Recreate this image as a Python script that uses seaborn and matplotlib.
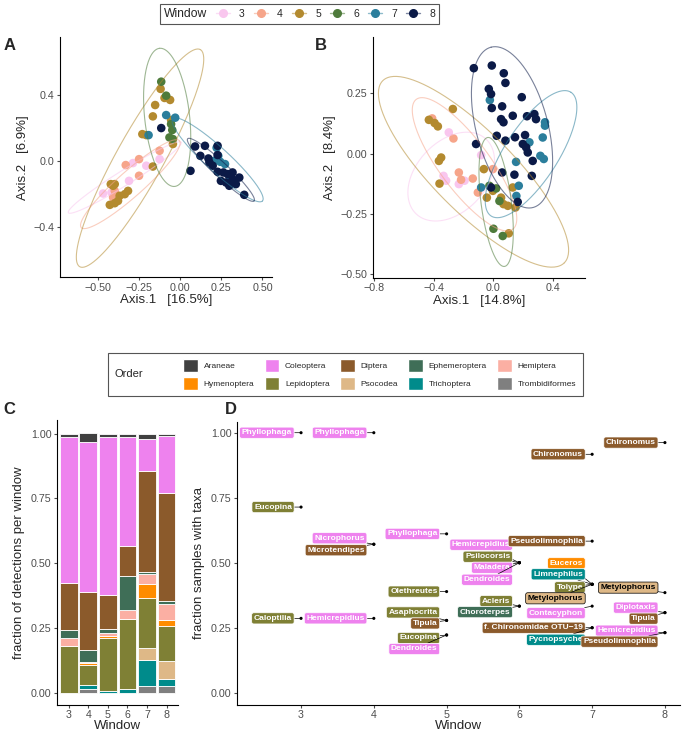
import numpy as np
import pandas as pd
import matplotlib
matplotlib.use("Agg")
import matplotlib.pyplot as plt
import seaborn as sns
from matplotlib.lines import Line2D
from matplotlib.patches import Patch
from matplotlib.offsetbox import DrawingArea

# ---------------- data ----------------
windows = [3, 4, 5, 6, 7, 8]
win_colors = {3: "#F9C6EE", 4: "#F6A58A", 5: "#B38A2F", 6: "#4E7B3B", 7: "#2B7E9C", 8: "#0B1A47"}

# PCoA A  (Axis.1 16.5%, Axis.2 6.9%)
a_window = [3]*6 + [4]*6 + [5]*19 + [6]*6 + [7]*9 + [8]*21
a_x = [-0.288, -0.207, -0.126, -0.312, -0.470, -0.419,
       -0.126, -0.251, -0.332, -0.251, -0.399, -0.409,
       -0.120, -0.096, -0.062, -0.153, -0.167, -0.231, -0.207, -0.056, -0.045, -0.167,
       -0.423, -0.399, -0.409, -0.318, -0.338, -0.369, -0.429, -0.399, -0.379,
       -0.116, -0.086, -0.056, -0.049, -0.066, -0.045,
       -0.086, -0.031, -0.193, 0.221, 0.231, 0.243, 0.272, 0.207, 0.298,
       -0.116, 0.090, 0.150, 0.122, 0.171, 0.227, 0.227, 0.062, 0.197, 0.227, 0.262,
       0.288, 0.318, 0.359, 0.298, 0.338, 0.389, 0.247, 0.278, 0.177, 0.318]
a_y = [-0.014, -0.030, 0.010, -0.122, -0.199, -0.193,
       0.061, 0.010, -0.026, -0.091, -0.183, -0.223,
       0.437, 0.382, 0.370, 0.339, 0.270, 0.162, 0.156, 0.248, 0.102, -0.035,
       -0.142, -0.142, -0.152, -0.183, -0.203, -0.213, -0.268, -0.258, -0.244,
       0.481, 0.396, 0.223, 0.187, 0.142, 0.132,
       0.278, 0.262, 0.156, 0.079, 0.030, -0.006, -0.020, 0.000, -0.091,
       0.199, 0.087, 0.091, 0.030, 0.014, 0.091, 0.035, -0.061, -0.030, -0.067, -0.071,
       -0.081, -0.112, -0.102, -0.152, -0.142, -0.207, -0.122, -0.132, -0.010, -0.071]
# ellipse per window: centre, end of long half-axis, end of short half-axis
a_ell_cx = [-0.338, -0.304, -0.245, -0.080, 0.227, 0.247]
a_ell_cy = [-0.102, -0.142, 0.016, 0.264, 0.006, -0.055]
a_ell_ux = [0.005, -0.005, 0.122, -0.126, 0.500, 0.449]
a_ell_uy = [0.112, 0.122, 0.676, 0.684, -0.244, -0.244]
a_ell_vx = [-0.314, -0.254, -0.120, 0.056, 0.179, 0.217]
a_ell_vy = [-0.140, -0.201, -0.055, 0.278, -0.047, -0.087]

# PCoA B  (Axis.1 14.8%, Axis.2 8.4%)
b_window = [3]*6 + [4]*7 + [5]*16 + [6]*5 + [7]*11 + [8]*29
b_x = [-0.298, -0.333, -0.316, -0.231, -0.193, -0.082,
       -0.409, -0.267, -0.231, -0.216, -0.138, -0.104, -0.004,
       -0.271, -0.431, -0.393, -0.371, -0.349, -0.364, -0.360, -0.064,
       -0.044, -0.004, 0.129, 0.067, 0.096, 0.147, 0.051, 0.102,
       0.018, 0.040, 0.000, 0.062, -0.027,
       -0.024, 0.344, 0.344, 0.329, 0.240, 0.313, 0.336, 0.151, 0.169, 0.153, -0.082,
       -0.131, -0.011, 0.069, 0.080, -0.031, -0.016, 0.189, 0.058, -0.011, 0.051,
       0.129, 0.224, 0.273, 0.284, 0.022, 0.144, 0.211, 0.080, -0.116, 0.196,
       0.218, 0.229, 0.262, 0.058, 0.140, 0.256, -0.016, 0.162, 0.067]
b_y = [0.088, -0.092, -0.112, -0.126, -0.112, -0.006,
       0.146, 0.063, -0.078, -0.108, -0.103, -0.161, -0.064,
       0.185, 0.140, 0.127, 0.113, -0.016, -0.030, -0.124, -0.064,
       -0.182, -0.154, -0.140, -0.209, -0.216, -0.223, -0.182, -0.330,
       -0.144, -0.196, -0.311, -0.341, -0.133,
       0.222, 0.130, 0.116, 0.067, 0.047, -0.009, -0.022, -0.034, -0.133, -0.175, -0.140,
       0.354, 0.365, 0.333, 0.293, 0.268, 0.247, 0.234, 0.196, 0.189, 0.143,
       0.157, 0.155, 0.164, 0.143, 0.074, 0.068, 0.077, 0.054, 0.040, 0.040,
       0.026, 0.005, -0.030, -0.078, -0.087, -0.092, -0.140, -0.200, 0.130]
b_ell_cx = [-0.282, -0.193, -0.133, 0.018, 0.251, 0.124]
b_ell_cy = [-0.095, -0.044, -0.075, -0.200, -0.002, 0.109]
b_ell_ux = [-0.049, 0.129, 0.473, -0.038, 0.518, -0.016]
b_ell_uy = [0.060, -0.313, -0.452, 0.067, 0.254, 0.441]
b_ell_vx = [-0.111, -0.327, -0.322, 0.118, 0.400, 0.356]
b_ell_vy = [-0.194, -0.106, -0.193, -0.191, -0.063, 0.146]

# C: fraction of detections per window, by order (windows 3..8)
orders = ["Araneae", "Coleoptera", "Diptera", "Ephemeroptera", "Hemiptera",
          "Hymenoptera", "Lepidoptera", "Psocodea", "Trichoptera", "Trombidiformes"]
order_colors = {"Araneae": "#404040", "Coleoptera": "#EE82EE", "Diptera": "#8B5A2B",
                "Ephemeroptera": "#3F6E57", "Hemiptera": "#FBAFA3", "Hymenoptera": "#FF8C00",
                "Lepidoptera": "#7F8035", "Psocodea": "#DEB887", "Trichoptera": "#008B8B",
                "Trombidiformes": "#7F7F7F"}
frac_araneae = [0.014, 0.033, 0.015, 0.015, 0.019, 0.009]
frac_coleoptera = [0.563, 0.579, 0.607, 0.418, 0.126, 0.219]
frac_diptera = [0.181, 0.223, 0.130, 0.117, 0.388, 0.417]
frac_ephemeroptera = [0.030, 0.045, 0.015, 0.131, 0.009, 0.011]
frac_hemiptera = [0.031, 0.004, 0.013, 0.034, 0.036, 0.061]
frac_hymenoptera = [0.000, 0.008, 0.008, 0.000, 0.054, 0.023]
frac_lepidoptera = [0.181, 0.076, 0.204, 0.268, 0.193, 0.134]
frac_psocodea = [0.000, 0.000, 0.000, 0.000, 0.046, 0.071]
frac_trichoptera = [0.000, 0.016, 0.008, 0.017, 0.101, 0.027]
frac_trombidiformes = [0.000, 0.017, 0.000, 0.000, 0.028, 0.028]

# D: fraction of samples with taxon
d_window = [3, 3, 3, 4, 4, 4, 4, 5, 5, 5, 5, 5, 5, 6, 6, 6, 6, 6, 6,
            7, 7, 7, 7, 7, 7, 7, 7, 7, 8, 8, 8, 8, 8, 8]
d_frac = [1.0, 0.714, 0.286, 1.0, 0.571, 0.571, 0.286,
          0.611, 0.389, 0.278, 0.278, 0.222, 0.222,
          0.5, 0.5, 0.5, 0.5, 0.333, 0.333,
          0.917, 0.583, 0.417, 0.417, 0.417, 0.417, 0.333, 0.25, 0.25,
          0.962, 0.385, 0.308, 0.308, 0.231, 0.231]
d_taxon = ["Phyllophaga", "Eucopina", "Caloptilia",
           "Phyllophaga", "Nicrophorus", "Microtendipes", "Hemicrepidius",
           "Phyllophaga", "Olethreutes", "Asaphocrita", "Tipula", "Eucopina", "Dendroides",
           "Hemicrepidius", "Psilocorsis", "Maladera", "Dendroides", "Acleris", "Choroterpes",
           "Chironomus", "Pseudolimnophila", "Euceros", "Limnephilus", "Tolype", "Metylophorus",
           "Contacyphon", "f. Chironomidae OTU\u221219", "Pycnopsyche",
           "Chironomus", "Metylophorus", "Diplotaxis", "Tipula", "Hemicrepidius", "Pseudolimnophila"]
d_order = ["Coleoptera", "Lepidoptera", "Lepidoptera",
           "Coleoptera", "Coleoptera", "Diptera", "Coleoptera",
           "Coleoptera", "Lepidoptera", "Lepidoptera", "Diptera", "Lepidoptera", "Coleoptera",
           "Coleoptera", "Lepidoptera", "Coleoptera", "Coleoptera", "Lepidoptera", "Ephemeroptera",
           "Diptera", "Diptera", "Hymenoptera", "Trichoptera", "Lepidoptera", "Psocodea",
           "Coleoptera", "Diptera", "Trichoptera",
           "Diptera", "Psocodea", "Coleoptera", "Diptera", "Coleoptera", "Diptera"]
# label placement (pixels below the point), like the repelled labels
d_label_dy = [0, 0, 0, 0, -6, 6, 0, 0, 0, -8, 3, 3, 14,
              -18, -6, 5, 17, -5, 6,
              0, 0, -21, -10, 3, 14, 7, 0, 12,
              0, -5, -5, 6, -2, 9]

# ---------------- style ----------------
sns.set_theme(style="ticks")
plt.rcParams["font.family"] = ["Liberation Sans", "DejaVu Sans"]
plt.rcParams.update({"axes.linewidth": 0.8, "xtick.major.width": 0.8, "ytick.major.width": 0.8,
                     "xtick.major.size": 2.5, "ytick.major.size": 2.5,
                     "xtick.major.pad": 1.5, "ytick.major.pad": 1.5,
                     "xtick.labelsize": 7.7, "ytick.labelsize": 7.7,
                     "xtick.color": "#4D4D4D", "ytick.color": "#4D4D4D",
                     "axes.labelsize": 9.5, "axes.labelpad": 1.0, "axes.edgecolor": "black"})

fig = plt.figure(figsize=(6.85, 7.31), dpi=100)
axA = fig.add_axes([0.0876, 0.621, 0.309, 0.328])
axB = fig.add_axes([0.5445, 0.620, 0.3095, 0.329])
axC = fig.add_axes([0.0832, 0.036, 0.177, 0.389])
axD = fig.add_axes([0.346, 0.036, 0.647, 0.387])


def pcoa(ax, win, xs, ys, cx, cy, ux, uy, vx, vy):
    df = pd.DataFrame({"Window": win, "x": xs, "y": ys})
    sns.scatterplot(data=df, x="x", y="y", hue="Window", palette=win_colors,
                    s=38, edgecolor="none", linewidth=0, legend=False, ax=ax, zorder=2)
    t = np.linspace(0, 2 * np.pi, 200)
    for w, c0, c1, u0, u1, v0, v1 in zip(windows, cx, cy, ux, uy, vx, vy):
        ex = c0 + (u0 - c0) * np.cos(t) + (v0 - c0) * np.sin(t)
        ey = c1 + (u1 - c1) * np.cos(t) + (v1 - c1) * np.sin(t)
        ax.plot(ex, ey, color=win_colors[w], alpha=0.55, lw=0.8, zorder=3)
    sns.despine(ax=ax)


pcoa(axA, a_window, a_x, a_y, a_ell_cx, a_ell_cy, a_ell_ux, a_ell_uy, a_ell_vx, a_ell_vy)
axA.set_xlim(-0.732, 0.556)
axA.set_ylim(-0.707, 0.751)
axA.set_xticks([-0.5, -0.25, 0, 0.25, 0.5], ["\u22120.50", "\u22120.25", "0.00", "0.25", "0.50"])
axA.set_yticks([-0.4, 0, 0.4], ["\u22120.4", "0.0", "0.4"])
axA.set_xlabel("Axis.1   [16.5%]")
axA.set_ylabel("Axis.2   [6.9%]", labelpad=3)

pcoa(axB, b_window, b_x, b_y, b_ell_cx, b_ell_cy, b_ell_ux, b_ell_uy, b_ell_vx, b_ell_vy)
axB.set_xlim(-0.804, 0.611)
axB.set_ylim(-0.514, 0.482)
axB.set_xticks([-0.8, -0.4, 0, 0.4], ["\u22120.8", "\u22120.4", "0.0", "0.4"])
axB.set_yticks([-0.5, -0.25, 0, 0.25], ["\u22120.50", "\u22120.25", "0.00", "0.25"])
axB.set_xlabel("Axis.1   [14.8%]")
axB.set_ylabel("Axis.2   [8.4%]", labelpad=3)

# C stacked bars
fracs = [frac_araneae, frac_coleoptera, frac_diptera, frac_ephemeroptera, frac_hemiptera,
         frac_hymenoptera, frac_lepidoptera, frac_psocodea, frac_trichoptera, frac_trombidiformes]
c_df = pd.DataFrame({"Window": windows * len(orders),
                     "Order": np.repeat(orders, len(windows)),
                     "frac": np.concatenate(fracs)})
sns.histplot(data=c_df, x="Window", hue="Order", weights="frac", multiple="stack",
             discrete=True, shrink=0.9, hue_order=orders, palette=order_colors,
             edgecolor="white", linewidth=0.6, alpha=1, legend=False, ax=axC)
sns.despine(ax=axC)
axC.set_xlim(2.4, 8.6)
axC.set_ylim(-0.044, 1.051)
axC.set_xticks(windows)
axC.set_yticks([0, 0.25, 0.5, 0.75, 1.0], ["0.00", "0.25", "0.50", "0.75", "1.00"])
axC.set_xlabel("Window", labelpad=0)
axC.set_ylabel("fraction of detections per window", labelpad=4)

# D labelled points
d_df = pd.DataFrame({"Window": d_window, "frac": d_frac, "taxon": d_taxon, "Order": d_order})
sns.scatterplot(data=d_df, x="Window", y="frac", color="black", s=5, edgecolor="none",
                ax=axD, zorder=4, legend=False)
for row, dy in zip(d_df.itertuples(), d_label_dy):
    dark = row.Order == "Psocodea"
    axD.annotate(row.taxon, xy=(row.Window, row.frac), xytext=(-6.5, -dy * 0.72),
                 textcoords="offset points", ha="right", va="center",
                 fontsize=6, fontweight="bold", color="black" if dark else "white",
                 bbox=dict(boxstyle="round,pad=0.25,rounding_size=0.25",
                           fc=order_colors[row.Order], ec="black" if dark else "white", lw=0.5),
                 arrowprops=dict(arrowstyle="-", color="black", lw=0.5, shrinkA=0, shrinkB=0))
sns.despine(ax=axD)
axD.set_xlim(2.12, 8.21)
axD.set_ylim(-0.046, 1.042)
axD.set_xticks(windows)
axD.set_yticks([0, 0.25, 0.5, 0.75, 1.0], ["0.00", "0.25", "0.50", "0.75", "1.00"])
axD.set_xlabel("Window", labelpad=0)
axD.set_ylabel("fraction samples with taxa", labelpad=4)

for lab, x, y in [("A", 0.005, 0.938), ("B", 0.46, 0.938), ("C", 0.005, 0.44), ("D", 0.328, 0.44)]:
    fig.text(x, y, lab, fontsize=12, fontweight="bold", va="center")


def title_left(leg, gap=0):
    # put the legend title to the left of the keys, as ggplot does
    box = leg.get_children()[0]
    title, handles = box.get_children()[0], box.get_children()[1]
    box._children = [handles]
    extra = [DrawingArea(gap, 1)] if gap else []
    handles._children = [title] + extra + handles.get_children()
    handles.align = "center"


# Window legend
light = {3: "#FBDDF5", 4: "#F9CBB9", 5: "#D6BF8C", 6: "#9DB58F", 7: "#8DBBCB", 8: "#7F88A3"}
win_handles = [Line2D([0], [0], color=light[w], lw=1.0, marker="o", markersize=5.5,
                      markerfacecolor=win_colors[w], markeredgecolor=win_colors[w]) for w in windows]
leg1 = fig.legend(win_handles, [str(w) for w in windows], title="Window", ncol=6,
                  loc="center", bbox_to_anchor=(0.437, 0.981), fontsize=7.5, title_fontsize=8.7,
                  frameon=True, fancybox=False, edgecolor="#555555", framealpha=1,
                  handlelength=1.35, handletextpad=0.9, columnspacing=0.85, borderpad=0.35)
leg1.get_frame().set_linewidth(0.8)
title_left(leg1)

# Order legend (filled by row)
row_order = ["Araneae", "Hymenoptera", "Coleoptera", "Lepidoptera", "Diptera", "Psocodea",
             "Ephemeroptera", "Trichoptera", "Hemiptera", "Trombidiformes"]
ord_handles = [Patch(facecolor=order_colors[o], edgecolor="white") for o in row_order]
leg2 = fig.legend(ord_handles, row_order, title="Order", ncol=5, loc="center",
                  bbox_to_anchor=(0.504, 0.4877), fontsize=6, title_fontsize=8,
                  frameon=True, fancybox=False, edgecolor="#555555", framealpha=1,
                  handlelength=1.75, handleheight=2.0, handletextpad=0.7, columnspacing=1.25,
                  labelspacing=0.55, borderpad=0.8)
leg2.get_frame().set_linewidth(0.8)
title_left(leg2, gap=14)

fig.savefig("out.png", dpi=100)
